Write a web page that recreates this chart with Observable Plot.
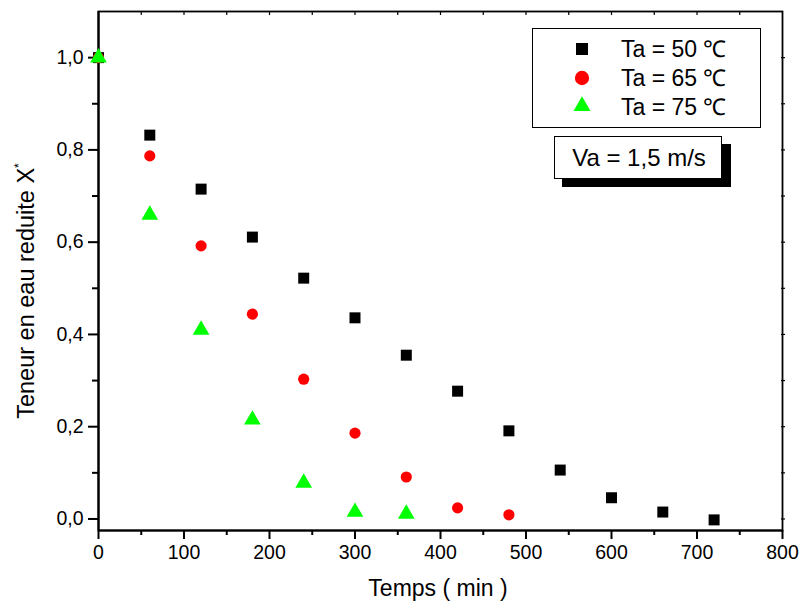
<!DOCTYPE html>
<html><head><meta charset="utf-8">
<script src="https://cdn.jsdelivr.net/npm/d3@7"></script>
<script src="https://cdn.jsdelivr.net/npm/@observablehq/plot@0.6"></script>
<style>
body{margin:0;background:#fff;}
#wrap{position:relative;width:800px;height:606px;}
</style></head>
<body><div id="wrap"></div>
<script>
const times50 = [0,60,120,180,240,300,360,420,480,540,600,660,720];
const x50 = [1.0,0.832,0.715,0.611,0.522,0.436,0.355,0.277,0.191,0.106,0.046,0.015,-0.002];
const times65 = [0,60,120,180,240,300,360,420,480];
const x65 = [1.0,0.787,0.592,0.444,0.303,0.186,0.091,0.024,0.009];
const times75 = [0,60,120,180,240,300,360];
const x75 = [1.0,0.659,0.41,0.215,0.078,0.015,0.011];
const seriesNames = ["Ta = 50 \u2103","Ta = 65 \u2103","Ta = 75 \u2103"];
const xTicks = [0,100,200,300,400,500,600,700,800];
const xMinor = [50,150,250,350,450,550,650,750];
const yTicks = [0,0.2,0.4,0.6,0.8,1.0];
const yMinor = [0.1,0.3,0.5,0.7,0.9];
const yAll = [0,0.1,0.2,0.3,0.4,0.5,0.6,0.7,0.8,0.9,1.0];
const xAll = [50,100,150,200,250,300,350,400,450,500,550,600,650,700,750];
const xLabel = "Temps ( min )";
const yLabel = "Teneur en eau reduite X";
const note = "Va = 1,5 m/s";

const d50 = times50.map((t,i)=>({t, v:x50[i]}));
const d65 = times65.map((t,i)=>({t, v:x65[i]}));
const d75 = times75.map((t,i)=>({t, v:x75[i]}));
const fmt = d => d.toFixed(1).replace(".", ",");
const sans = "'Liberation Sans',Arial,Helvetica,sans-serif";

const chart = Plot.plot({
  width: 800, height: 606,
  marginLeft: 98, marginRight: 18, marginTop: 11, marginBottom: 76,
  style: {fontFamily: sans, fontSize: "19.5px", color: "#000", background: "#fff"},
  x: {domain: [0, 800]},
  y: {domain: [-0.025, 1.1]},
  marks: [
    Plot.axisX({ticks: xTicks, tickSize: 9, tickFormat: d => String(d), tickPadding: 6, label: null, fontSize: 19.5, strokeWidth: 2}),
    Plot.axisX({ticks: xMinor, tickSize: 5, tickFormat: () => "", label: null, strokeWidth: 2}),
    Plot.axisX({anchor: "top", ticks: xAll, tickSize: 3, dy: 3, tickFormat: () => "", label: null, strokeWidth: 1.2}),
    Plot.axisY({ticks: yTicks, tickSize: 10, tickFormat: fmt, tickPadding: 5, label: null, fontSize: 19.5, strokeWidth: 2}),
    Plot.axisY({ticks: yMinor, tickSize: 6, tickFormat: () => "", label: null, strokeWidth: 2}),
    Plot.axisY({anchor: "right", ticks: yAll, tickSize: 4, dx: -2, tickFormat: () => "", label: null, strokeWidth: 1.2}),
    Plot.frame({stroke: "#000", strokeWidth: 1.8}),
    Plot.ruleY([-0.025], {stroke: "#000", strokeWidth: 2.2}),
    Plot.ruleX([0], {stroke: "#000", strokeWidth: 2.2}),
    Plot.dot(d50, {x: "t", y: "v", symbol: "square", r: 6.2, fill: "#000"}),
    Plot.dot(d65, {x: "t", y: "v", symbol: "circle", r: 5.6, fill: "#ff0000"}),
    Plot.dot(d75, {x: "t", y: "v", symbol: "triangle", r: 6.2, fill: "#00ff00"})
  ]
});

const svg = d3.select(chart);
svg.append("text").attr("x", 438).attr("y", 596).attr("text-anchor", "middle")
  .attr("font-family", sans).attr("font-size", 23).text(xLabel);
const yl = svg.append("text").attr("transform", "translate(34,291) rotate(-90)").attr("text-anchor", "middle")
  .attr("font-family", sans).attr("font-size", 23.5);
yl.append("tspan").text(yLabel);
yl.append("tspan").attr("dy", -11).attr("font-size", 12).text("*");

// legend
const lg = svg.append("g").attr("font-family", sans).attr("font-size", 23).attr("text-anchor", "start");
lg.append("rect").attr("x", 532.5).attr("y", 28.5).attr("width", 228).attr("height", 99).attr("fill", "#fff").attr("stroke", "#000").attr("stroke-width", 1);
const sym = [d3.symbolSquare, d3.symbolCircle, d3.symbolTriangle];
const cols = ["#000", "#ff0000", "#00ff00"];
const sizes = [144, 160, 125];
const rowY = [49, 78, 106];
const baseY = [57, 86, 115];
seriesNames.forEach((n, i) => {
  lg.append("path").attr("d", d3.symbol(sym[i], sizes[i])()).attr("transform", `translate(582,${rowY[i]})`).attr("fill", cols[i]);
  lg.append("text").attr("x", 621).attr("y", baseY[i]).text(n);
});
// note with shadow
const ng = svg.append("g").attr("font-family", sans).attr("font-size", 24);
ng.append("rect").attr("x", 562).attr("y", 144).attr("width", 169).attr("height", 43).attr("fill", "#000");
ng.append("rect").attr("x", 554.5).attr("y", 136.5).attr("width", 167).attr("height", 42).attr("fill", "#fff").attr("stroke", "#000").attr("stroke-width", 1);
ng.append("text").attr("x", 639).attr("y", 166).attr("text-anchor", "middle").text(note);

document.getElementById("wrap").appendChild(chart);
</script></body></html>
